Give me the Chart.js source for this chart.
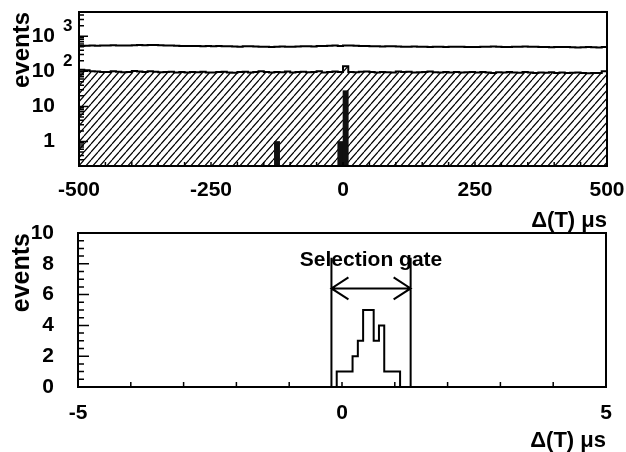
<!DOCTYPE html>
<html>
<head>
<meta charset="utf-8">
<script src="https://cdn.jsdelivr.net/npm/chart.js@4.4.1/dist/chart.umd.min.js"></script>
<style>
body { margin: 0; background: #fff; width: 626px; height: 452px; position: relative; overflow: hidden; }
#arriba { position: absolute; left: 0; top: 0; }
#abajo { position: absolute; left: 0; top: 200px; }
</style>
</head>
<body>
<canvas id="arriba" width="626" height="240"></canvas>
<canvas id="abajo" width="626" height="252"></canvas>
<script>
// Histograma de arriba: bins de 10 us entre -500 y 500
const inicioArriba = -500;
const anchoArriba = 10;
const eventosTotales = [
    530,535,540,535,545,540,550,545,540,545,550,560,555,565,560,550,545,540,535,530,530,525,530,520,525,
    520,525,515,520,510,505,515,520,510,505,500,495,505,510,500,505,510,515,520,510,525,530,535,540,530,
    540,545,535,530,525,520,515,510,515,520,510,505,500,510,505,500,495,505,500,495,500,505,500,495,490,
    495,500,505,510,500,495,490,500,505,510,505,500,495,490,485,490,495,490,485,480,485,490,485,480,490
];
const eventosFondo = [
    110,108,100,98,96,95,100,97,94,96,102,98,95,100,97,94,95,97,93,96,92,95,94,97,93,
    92,95,97,93,91,95,97,93,96,100,95,92,96,94,98,92,95,97,94,96,100,93,95,98,96,
    140,96,94,97,99,95,92,96,94,93,98,95,97,92,94,96,99,94,92,96,93,95,92,94,96,
    93,95,92,90,94,92,96,93,91,95,92,90,93,91,94,90,92,89,91,93,90,88,90,89,100
];
const centrosOscuros = [-125, -5, 5];
const eventosOscuros = [1, 1, 28];
const decadasY = [1, 10, 100, 1000];

// Histograma de abajo: bins de 0.1 us
const inicioAbajo = -0.1;
const anchoAbajo = 0.1;
const eventosGate = [1, 1, 1, 2, 3, 5, 5, 3, 4, 1, 1, 1];
const bordesGate = [-0.2, 1.3];
const alturaGate = 8.4;
const alturaFlecha = 6.4;
const textoGate = "Selection gate";

Chart.defaults.font.family = "'Liberation Sans', Arial, sans-serif";
Chart.defaults.font.weight = "bold";
Chart.defaults.color = "#000";

// puntos para dibujar un histograma como linea escalonada
function escalones(inicio, ancho, valores, ceroInicial) {
    let puntos = [];
    if (ceroInicial) puntos.push({x: inicio - ancho, y: 0});
    for (let i = 0; i < valores.length; i++) {
        puntos.push({x: inicio + i * ancho, y: valores[i]});
    }
    puntos.push({x: inicio + valores.length * ancho, y: ceroInicial ? 0 : valores[valores.length - 1]});
    return puntos;
}

function rayado() {
    const c = document.createElement("canvas");
    c.width = 7; c.height = 8;
    const g = c.getContext("2d");
    g.strokeStyle = "#000";
    g.lineWidth = 1.2;
    g.beginPath();
    g.moveTo(0, 8); g.lineTo(7, 0);
    g.moveTo(-7, 8); g.lineTo(0, 0);
    g.moveTo(7, 8); g.lineTo(14, 0);
    g.stroke();
    return g.createPattern(c, "repeat");
}

const marcoArriba = {
    id: "marcoArriba",
    afterDraw(chart) {
        const ctx = chart.ctx, a = chart.chartArea;
        const x = chart.scales.x, y = chart.scales.y;
        ctx.save();
        ctx.strokeStyle = "#000";
        ctx.lineWidth = 1.5;
        ctx.beginPath();
        for (let v = -450; v < 500; v += 50) {
            const px = x.getPixelForValue(v);
            ctx.moveTo(px, a.bottom); ctx.lineTo(px, a.bottom - 4);
        }
        for (let d = 0.1; d < 5000; d *= 10) {
            for (let k = 1; k <= 9; k++) {
                const v = d * k;
                if (v < y.min || v > y.max) continue;
                const py = y.getPixelForValue(v);
                const largo = k == 1 ? 9 : 5;
                ctx.moveTo(a.left, py); ctx.lineTo(a.left + largo, py);
            }
        }
        ctx.stroke();
        ctx.lineWidth = 2;
        ctx.strokeRect(a.left, a.top, a.width, a.height);

        // etiquetas del eje log
        ctx.fillStyle = "#000";
        ctx.textBaseline = "middle";
        for (let d of decadasY) {
            const py = y.getPixelForValue(d);
            const exp = Math.round(Math.log10(d));
            ctx.font = "bold 21px 'Liberation Sans', Arial";
            ctx.textAlign = "right";
            ctx.fillText(d == 1 ? "1" : "10", a.left - 24, py);
            if (exp >= 2) {
                ctx.font = "bold 17px 'Liberation Sans', Arial";
                ctx.textAlign = "left";
                ctx.fillText(String(exp), a.left - 16, py - 10);
            }
        }
        ctx.restore();
    }
};

const marcoAbajo = {
    id: "marcoAbajo",
    afterDraw(chart) {
        const ctx = chart.ctx, a = chart.chartArea;
        const x = chart.scales.x, y = chart.scales.y;
        ctx.save();
        ctx.strokeStyle = "#000";
        ctx.lineWidth = 1.5;
        ctx.beginPath();
        for (let v = -4; v <= 4; v++) {
            const px = x.getPixelForValue(v);
            ctx.moveTo(px, a.bottom); ctx.lineTo(px, a.bottom - 5);
        }
        for (let v = 0.5; v < 10; v += 0.5) {
            const py = y.getPixelForValue(v);
            const largo = v % 2 == 0 ? 11 : 6;
            ctx.moveTo(a.left, py); ctx.lineTo(a.left + largo, py);
        }
        ctx.stroke();
        ctx.lineWidth = 2;
        ctx.strokeRect(a.left, a.top, a.width, a.height);

        // ventana de seleccion
        const x1 = x.getPixelForValue(bordesGate[0]);
        const x2 = x.getPixelForValue(bordesGate[1]);
        const y0 = y.getPixelForValue(0);
        const yTop = y.getPixelForValue(alturaGate);
        const yF = y.getPixelForValue(alturaFlecha);
        ctx.beginPath();
        ctx.moveTo(x1, y0); ctx.lineTo(x1, yTop);
        ctx.moveTo(x2, y0); ctx.lineTo(x2, yTop);
        ctx.moveTo(x1, yF); ctx.lineTo(x2, yF);
        ctx.moveTo(x1 + 17, yF - 11); ctx.lineTo(x1, yF); ctx.lineTo(x1 + 17, yF + 11);
        ctx.moveTo(x2 - 17, yF - 11); ctx.lineTo(x2, yF); ctx.lineTo(x2 - 17, yF + 11);
        ctx.stroke();

        ctx.fillStyle = "#000";
        ctx.font = "bold 21px 'Liberation Sans', Arial";
        ctx.textAlign = "center";
        ctx.textBaseline = "alphabetic";
        ctx.fillText(textoGate, (x1 + x2) / 2, y.getPixelForValue(7.85));
        ctx.restore();
    }
};

const graficaArriba = new Chart(document.getElementById("arriba").getContext("2d"), {
    type: "bar",
    data: {
        datasets: [{
            type: "bar",
            data: centrosOscuros.map((c, i) => ({x: c, y: eventosOscuros[i]})),
            backgroundColor: "#111",
            borderWidth: 0,
            barPercentage: 1,
            categoryPercentage: 1
        }, {
            type: "line",
            data: escalones(inicioArriba, anchoArriba, eventosFondo, false),
            stepped: "before",
            borderColor: "#000",
            borderWidth: 2,
            pointRadius: 0,
            fill: "start",
            backgroundColor: rayado()
        }, {
            type: "line",
            data: escalones(inicioArriba, anchoArriba, eventosTotales, false),
            stepped: "before",
            borderColor: "#000",
            borderWidth: 2,
            pointRadius: 0,
            fill: false
        }]
    },
    options: {
        responsive: false,
        animation: false,
        layout: {padding: {left: 0, top: 12, right: 19, bottom: 0}, autoPadding: false},
        plugins: {legend: {display: false}, tooltip: {enabled: false}},
        scales: {
            x: {
                type: "linear", min: -500, max: 500, offset: false,
                grid: {display: false, drawTicks: false, offset: false}, border: {display: false},
                ticks: {stepSize: 250, padding: 12, maxRotation: 0, font: {size: 21, weight: "bold"}},
                title: {display: true, text: "Δ(T) μs", align: "end", padding: {top: 0, bottom: 8},
                        font: {size: 22, weight: "bold", lineHeight: 1}},
                afterFit: (s) => { s.height = 74; s.paddingLeft = 0; s.paddingRight = 0; }
            },
            y: {
                type: "logarithmic", min: 0.2, max: 4900,
                grid: {display: false, drawTicks: false}, border: {display: false},
                ticks: {display: false},
                title: {display: true, text: "events", align: "end", padding: {top: 10, bottom: 0},
                        font: {size: 24, weight: "bold", lineHeight: 1}},
                afterFit: (s) => { s.width = 79; }
            }
        }
    },
    plugins: [marcoArriba]
});

const graficaAbajo = new Chart(document.getElementById("abajo").getContext("2d"), {
    type: "line",
    data: {
        datasets: [{
            data: escalones(inicioAbajo, anchoAbajo, eventosGate, true),
            stepped: "before",
            borderColor: "#000",
            borderWidth: 2,
            pointRadius: 0,
            fill: false
        }]
    },
    options: {
        responsive: false,
        animation: false,
        layout: {padding: {left: 0, top: 33, right: 20, bottom: 0}, autoPadding: false},
        plugins: {legend: {display: false}, tooltip: {enabled: false}},
        scales: {
            x: {
                type: "linear", min: -5, max: 5,
                grid: {display: false, drawTicks: false}, border: {display: false},
                ticks: {stepSize: 5, padding: 14, maxRotation: 0, font: {size: 21, weight: "bold"}},
                title: {display: true, text: "Δ(T) μs", align: "end", padding: {top: 0, bottom: 0},
                        font: {size: 22, weight: "bold", lineHeight: 1}},
                afterFit: (s) => { s.height = 65; s.paddingLeft = 0; s.paddingRight = 0; }
            },
            y: {
                type: "linear", min: 0, max: 10,
                grid: {display: false, drawTicks: false}, border: {display: false},
                ticks: {stepSize: 2, padding: 24, font: {size: 21, weight: "bold"}},
                title: {display: true, text: "events", align: "end", padding: {top: 10, bottom: 0},
                        font: {size: 25, weight: "bold", lineHeight: 1}},
                afterFit: (s) => { s.width = 78; s.paddingTop = 0; s.paddingBottom = 0; }
            }
        }
    },
    plugins: [marcoAbajo]
});
</script>
</body>
</html>
